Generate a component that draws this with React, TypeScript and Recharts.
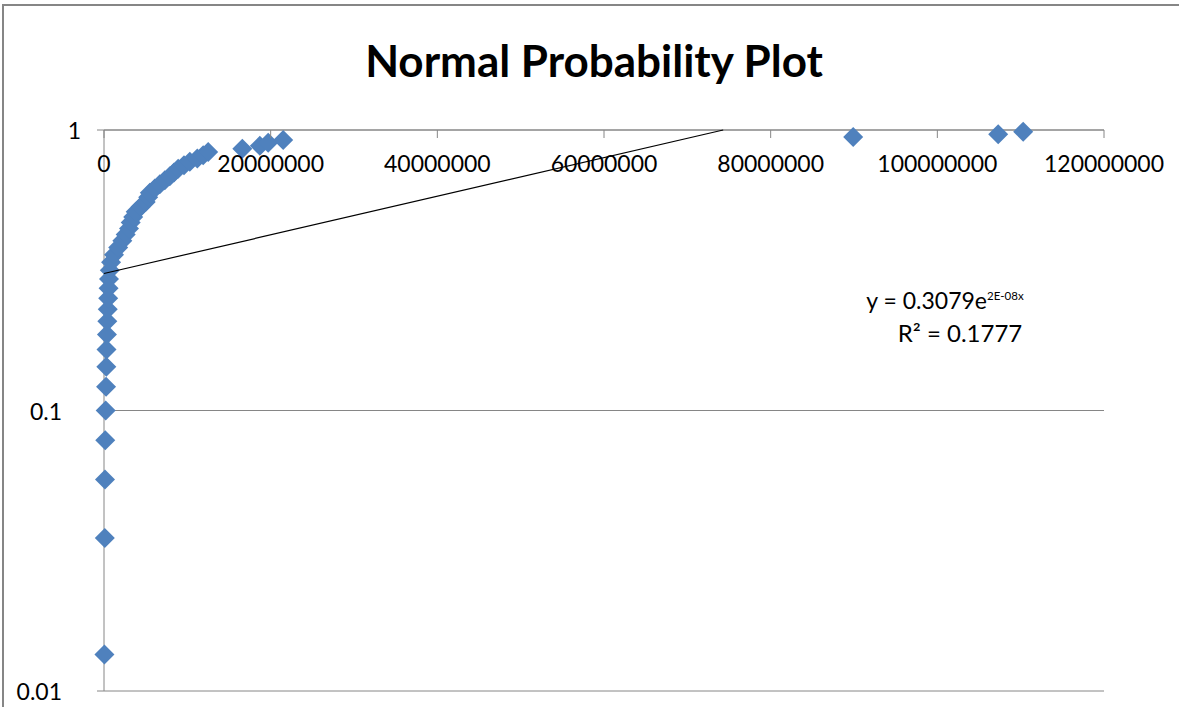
import React from 'react';
import { ScatterChart, Scatter, XAxis, YAxis, CartesianGrid } from 'recharts';

// Cumulative probabilities (plotting positions)
const probValues = [
  0.0135, 0.0351, 0.0568, 0.0784, 0.1, 0.1216, 0.1432, 0.1649, 0.1865, 0.2081,
  0.2297, 0.2514, 0.273, 0.2946, 0.3162, 0.3378, 0.3595, 0.3811, 0.4027, 0.4243,
  0.4459, 0.4676, 0.4892, 0.5108, 0.5324, 0.5541, 0.5757, 0.5973, 0.6189, 0.6405,
  0.6622, 0.6838, 0.7054, 0.727, 0.7486, 0.7703, 0.7919, 0.8135, 0.8351, 0.8568,
  0.8784, 0.9, 0.9216, 0.9432, 0.9649, 0.9865,
];

// Sample values
const sampleValues = [
  50000, 100000, 120000, 150000, 200000, 250000, 280000, 300000, 350000, 400000,
  450000, 500000, 550000, 600000, 700000, 850000, 1200000, 1700000, 2200000, 2600000,
  3000000, 3200000, 3500000, 3800000, 4400000, 5000000, 5300000, 5500000, 6100000, 6700000,
  7300000, 7900000, 8400000, 8900000, 9600000, 10300000, 11200000, 11900000, 12500000, 16600000,
  18700000, 19700000, 21500000, 89900000, 107300000, 110300000,
];

const xTicks = [0, 20000000, 40000000, 60000000, 80000000, 100000000, 120000000];
const yTicks = [0.01, 0.1, 1];

// Exponential trendline endpoints (drawn as a straight segment on the log axis)
const trendX = [0, 74300000];
const trendY = [0.3079, 1];

const points = sampleValues.map((x, i) => ({ x, y: probValues[i] }));
const trend = trendX.map((x, i) => ({ x, y: trendY[i] }));

const FONT = 'Lato, "Open Sans", sans-serif';
const GRAY = '#868686';

const Diamond = (props: any) => {
  const { cx, cy } = props;
  if (cx == null || cy == null) return <g />;
  const r = 10;
  return (
    <path
      d={`M${cx},${cy - r}L${cx + r},${cy}L${cx},${cy + r}L${cx - r},${cy}Z`}
      fill="#4F81BD"
    />
  );
};

const Empty = () => <g />;

const XTick = (props: any) => {
  const { x, y, payload } = props;
  return (
    <g>
      <line x1={x} x2={x} y1={y} y2={y + 8} stroke={GRAY} strokeWidth={1} />
      <text
        x={x}
        y={y + 33}
        textAnchor="middle"
        dominantBaseline="central"
        fontSize={23}
        fontFamily={FONT}
        fill="#000"
      >
        {String(payload.value)}
      </text>
    </g>
  );
};

const YTick = (props: any) => {
  const { x, y, payload } = props;
  const shift = payload.value >= 1 ? 0 : -19;
  return (
    <text
      x={x + shift}
      y={y}
      textAnchor="end"
      dominantBaseline="central"
      fontSize={23}
      fontFamily={FONT}
      fill="#000"
    >
      {String(payload.value)}
    </text>
  );
};

export default function App() {
  return (
    <div
      style={{
        position: 'absolute',
        left: 0,
        top: 0,
        width: 1179,
        height: 707,
        overflow: 'hidden',
        background: '#fff',
      }}
    >
      <div
        style={{
          position: 'absolute',
          left: 2,
          top: 4,
          width: 1300,
          height: 900,
          border: `2px solid ${GRAY}`,
          boxSizing: 'border-box',
        }}
      />
      <div
        style={{
          position: 'absolute',
          left: 594,
          top: 60,
          transform: 'translate(-50%, -50%)',
          fontFamily: FONT,
          fontWeight: 700,
          fontSize: 44,
          whiteSpace: 'nowrap',
          color: '#000',
        }}
      >
        Normal Probability Plot
      </div>
      <div
        style={{
          position: 'absolute',
          left: 945,
          top: 300,
          transform: 'translate(-50%, -50%)',
          fontFamily: FONT,
          fontSize: 23,
          whiteSpace: 'nowrap',
          color: '#000',
        }}
      >
        y = 0.3079e<sup style={{ fontSize: 11.5, verticalAlign: 'super', lineHeight: 0 }}>2E-08x</sup>
      </div>
      <div
        style={{
          position: 'absolute',
          left: 960,
          top: 332,
          transform: 'translate(-50%, -50%)',
          fontFamily: FONT,
          fontSize: 24,
          whiteSpace: 'nowrap',
          color: '#000',
        }}
      >
        R² = 0.1777
      </div>
      <div style={{ position: 'absolute', left: 0, top: 0 }}>
        <ScatterChart
          width={1179}
          height={707}
          margin={{ top: 0, right: 75, bottom: 16, left: 0 }}
        >
          <CartesianGrid vertical={false} stroke={GRAY} strokeWidth={1} />
          <XAxis
            type="number"
            dataKey="x"
            orientation="top"
            height={130}
            domain={[0, 120000000]}
            ticks={xTicks}
            interval={0}
            tickSize={0}
            tickMargin={0}
            tickLine={false}
            axisLine={{ stroke: GRAY, strokeWidth: 1 }}
            tick={<XTick />}
          />
          <YAxis
            type="number"
            dataKey="y"
            scale="log"
            domain={[0.01, 1]}
            ticks={yTicks}
            interval={0}
            width={104}
            tickSize={7}
            tickMargin={16}
            tickLine={{ stroke: GRAY, strokeWidth: 1 }}
            axisLine={{ stroke: GRAY, strokeWidth: 1 }}
            tick={<YTick />}
          />
          <Scatter
            data={points}
            shape={<Diamond />}
            isAnimationActive={false}
          />
          <Scatter
            data={trend}
            shape={<Empty />}
            line={{ stroke: '#000', strokeWidth: 1.2 }}
            isAnimationActive={false}
          />
        </ScatterChart>
      </div>
    </div>
  );
}
